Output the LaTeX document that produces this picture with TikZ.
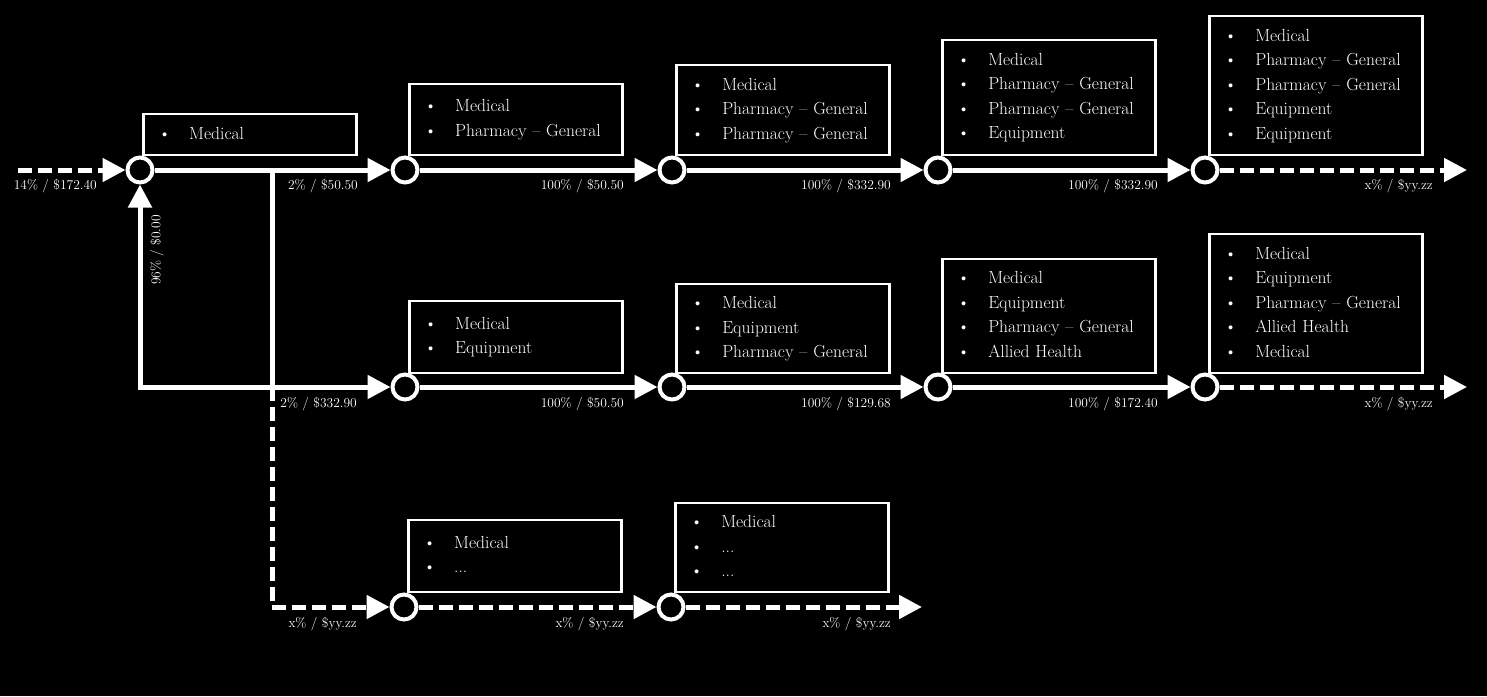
\documentclass[tikz,border=0pt]{standalone}
\usepackage{xcolor}
\usepackage{tikz}
\usetikzlibrary{arrows.meta,positioning}

\newcommand{\itm}[1]{\makebox[31pt][l]{\textbullet}#1\strut}

\begin{document}
\begin{tikzpicture}[x=1pt, y=-1pt, >={Triangle[length=23pt,width=23pt]}]
    % Define styles
    \tikzstyle{hub} = [circle, draw=white, line width=4pt, fill=black, minimum size=25pt, inner sep=0pt]
    \tikzstyle{itembox} = [rectangle, draw=white, line width=2.5pt, fill=black, text=white, text width=183pt, minimum width=213pt, inner xsep=15pt, inner ysep=0pt, align=left, font=\fontsize{17.5}{24.5}\selectfont]
    \tikzstyle{flow} = [white, line width=5pt, ->]
    \tikzstyle{dflow} = [flow, dash pattern=on 14pt off 6pt]
    \tikzstyle{wire} = [white, line width=5pt]
    \tikzstyle{lbl} = [text=white, inner sep=0pt, font=\fontsize{13.5}{16}\selectfont]

    % Background
    \fill[black] (0,0) rectangle (1487,696);

    % Hubs
    \node [hub] (step1) at (140,170) {};
    \node [hub] (top2) at (405,170) {};
    \node [hub] (top3) at (672,170) {};
    \node [hub] (top4) at (938,170) {};
    \node [hub] (top5) at (1205,170) {};
    \node [hub] (mid2) at (405,387) {};
    \node [hub] (mid3) at (672,387) {};
    \node [hub] (mid4) at (938,387) {};
    \node [hub] (mid5) at (1205,387) {};
    \node [hub] (low2) at (404,607) {};
    \node [hub] (low3) at (671,607) {};

    % Free ends and corners
    \coordinate (in) at (18,170);
    \coordinate (split) at (272,170);
    \coordinate (join) at (272,387);
    \coordinate (turn) at (272,607);
    \coordinate (back) at (140,387);
    \coordinate (end1) at (1467,170);
    \coordinate (end2) at (1467,387);
    \coordinate (end3) at (922,607);

    % Arrows
    \draw [dflow] (in) -- (step1);
    \draw [flow] (step1) -- (top2);
    \draw [flow] (top2) -- (top3);
    \draw [flow] (top3) -- (top4);
    \draw [flow] (top4) -- (top5);
    \draw [dflow] (top5) -- (end1);
    \draw [flow, <->] (step1) -- (back) -- (mid2);
    \draw [flow] (mid2) -- (mid3);
    \draw [flow] (mid3) -- (mid4);
    \draw [flow] (mid4) -- (mid5);
    \draw [dflow] (mid5) -- (end2);
    \draw [wire] (split) -- (join);
    \draw [dflow] (join) -- (turn) -- (low2);
    \draw [dflow] (low2) -- (low3);
    \draw [dflow] (low3) -- (end3);

    % Claim boxes
    \node [itembox, minimum height=41pt, anchor=south west] (box1) at (142,156) {\itm{Medical}};
    \node [itembox, minimum height=71pt, anchor=south west] (boxt2) at (408,156) {\itm{Medical}\\\itm{Pharmacy -- General}};
    \node [itembox, minimum height=90pt, anchor=south west] (boxt3) at (675,156) {\itm{Medical}\\\itm{Pharmacy -- General}\\\itm{Pharmacy -- General}};
    \node [itembox, minimum height=115pt, anchor=south west] (boxt4) at (941,156) {\itm{Medical}\\\itm{Pharmacy -- General}\\\itm{Pharmacy -- General}\\\itm{Equipment}};
    \node [itembox, minimum height=139pt, anchor=south west] (boxt5) at (1208,156) {\itm{Medical}\\\itm{Pharmacy -- General}\\\itm{Pharmacy -- General}\\\itm{Equipment}\\\itm{Equipment}};
    \node [itembox, minimum height=72pt, anchor=south west] (boxm2) at (408,374) {\itm{Medical}\\\itm{Equipment}};
    \node [itembox, minimum height=89pt, anchor=south west] (boxm3) at (675,374) {\itm{Medical}\\\itm{Equipment}\\\itm{Pharmacy -- General}};
    \node [itembox, minimum height=114pt, anchor=south west] (boxm4) at (941,374) {\itm{Medical}\\\itm{Equipment}\\\itm{Pharmacy -- General}\\\itm{Allied Health}};
    \node [itembox, minimum height=139pt, anchor=south west] (boxm5) at (1208,374) {\itm{Medical}\\\itm{Equipment}\\\itm{Pharmacy -- General}\\\itm{Allied Health}\\\itm{Medical}};
    \node [itembox, minimum height=72pt, anchor=south west] (boxl2) at (407,593) {\itm{Medical}\\\itm{...}};
    \node [itembox, minimum height=89pt, anchor=south west] (boxl3) at (674,593) {\itm{Medical}\\\itm{...}\\\itm{...}};

    % Shares and amounts
    \node [lbl, anchor=east] (lin) at (97,186) {14\% / \$172.40};
    \node [lbl, anchor=east] (lt2) at (358,186) {2\% / \$50.50};
    \node [lbl, anchor=east] (lt3) at (624,186) {100\% / \$50.50};
    \node [lbl, anchor=east] (lt4) at (891,186) {100\% / \$332.90};
    \node [lbl, anchor=east] (lt5) at (1158,186) {100\% / \$332.90};
    \node [lbl, anchor=east] (lt6) at (1433,186) {x\% / \$yy.zz};
    \node [lbl, anchor=east] (lm2) at (357,404) {2\% / \$332.90};
    \node [lbl, anchor=east] (lm3) at (624,404) {100\% / \$50.50};
    \node [lbl, anchor=east] (lm4) at (891,404) {100\% / \$129.68};
    \node [lbl, anchor=east] (lm5) at (1158,404) {100\% / \$172.40};
    \node [lbl, anchor=east] (lm6) at (1433,404) {x\% / \$yy.zz};
    \node [lbl, anchor=east] (ll2) at (357,624) {x\% / \$yy.zz};
    \node [lbl, anchor=east] (ll3) at (624,624) {x\% / \$yy.zz};
    \node [lbl, anchor=east] (ll4) at (891,624) {x\% / \$yy.zz};
    \node [lbl, rotate=90] (lback) at (157,250) {96\% / \$0.00};
\end{tikzpicture}
\end{document}
